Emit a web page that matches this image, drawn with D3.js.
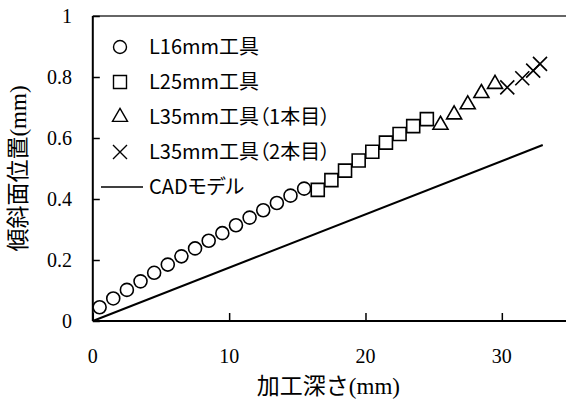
<!DOCTYPE html>
<html>
<head>
<meta charset="utf-8">
<script src="https://cdn.jsdelivr.net/npm/d3@7"></script>
<style>
  html, body { margin: 0; padding: 0; background: #fff; }
  svg { display: block; }
  .serif { font-family: "Liberation Serif", "DejaVu Serif", serif; }
  .jp { font-family: "Noto Sans CJK JP", "Noto Sans", sans-serif; }
</style>
</head>
<body>
<svg id="chart" width="566" height="408"></svg>
<script>
// ---- data ----
const l16X = [0.5, 1.5, 2.5, 3.5, 4.5, 5.5, 6.5, 7.5, 8.5, 9.5, 10.5, 11.5, 12.5, 13.5, 14.5, 15.5];
const l16Y = [0.045, 0.074, 0.102, 0.130, 0.158, 0.185, 0.212, 0.238, 0.263, 0.288, 0.314, 0.339, 0.363, 0.387, 0.411, 0.434];
const l25X = [16.5, 17.5, 18.5, 19.5, 20.5, 21.5, 22.5, 23.5, 24.5];
const l25Y = [0.430, 0.462, 0.493, 0.526, 0.555, 0.585, 0.613, 0.639, 0.662];
const l35aX = [25.5, 26.5, 27.5, 28.5, 29.5];
const l35aY = [0.643, 0.677, 0.710, 0.747, 0.777];
const l35bX = [30.4, 31.5, 32.3, 32.8];
const l35bY = [0.766, 0.796, 0.821, 0.843];
const cadX = [0, 33];
const cadY = [0, 0.577];
const xTicks = [0, 10, 20, 30];
const yTicks = [0, 0.2, 0.4, 0.6, 0.8, 1];
const yTickLabels = ["0", "0.2", "0.4", "0.6", "0.8", "1"];
const legendLabels = ["L16mm工具", "L25mm工具", "L35mm工具（1本目）", "L35mm工具（2本目）", "CADモデル"];
const xTitleJa = "加工深さ";
const yTitleJa = "傾斜面位置";
const unitText = "(mm)";

(function () {
// ---- layout ----
const svg = d3.select("#chart");
const pL = 92.8, pR = 570, pT = 16, pB = 321;
const x = d3.scaleLinear().domain([0, 35]).range([pL, pR]);
const y = d3.scaleLinear().domain([0, 1]).range([pB, pT]);

// frame: top border
svg.append("line").attr("x1", pL).attr("x2", pR).attr("y1", pT).attr("y2", pT)
  .attr("stroke", "#333").attr("stroke-width", 1.6);

// axes
const yAxis = d3.axisRight(y).tickValues(yTicks).tickSize(7).tickFormat("");
const gy = svg.append("g").attr("transform", `translate(${pL},0)`).call(yAxis);
gy.select(".domain").attr("stroke", "#000").attr("stroke-width", 2).attr("d", `M0,${pT}V${pB}`);
gy.selectAll(".tick line").attr("stroke", "#000").attr("stroke-width", 1.5);

const xAxis = d3.axisTop(x).tickValues(xTicks).tickSize(8).tickFormat("");
const gx = svg.append("g").attr("transform", `translate(0,${pB})`).call(xAxis);
gx.select(".domain").attr("stroke", "#000").attr("stroke-width", 2).attr("d", `M${pL},0H${pR}`);
gx.selectAll(".tick line").attr("stroke", "#000").attr("stroke-width", 1.5);

// tick labels
svg.append("g").selectAll("text").data(yTicks).join("text")
  .attr("class", "serif")
  .attr("x", 72).attr("y", d => y(d)).attr("dy", "0.35em")
  .attr("text-anchor", "end").style("font-size", "20px")
  .text((d, i) => yTickLabels[i]);
svg.append("g").selectAll("text").data(xTicks).join("text")
  .attr("class", "serif")
  .attr("x", d => x(d)).attr("y", 356).attr("dy", "0.35em")
  .attr("text-anchor", "middle").style("font-size", "20px")
  .text(d => d);

// axis titles
const xt = svg.append("text").attr("x", (pL + pR) / 2 - 3).attr("y", 386).attr("dy", "0.35em")
  .attr("text-anchor", "middle").style("font-size", "23px");
xt.append("tspan").attr("class", "jp").text(xTitleJa);
xt.append("tspan").attr("class", "serif").text(unitText);

const yt = svg.append("text").attr("transform", `translate(18,${(pT + pB) / 2}) rotate(-90)`)
  .attr("dy", "0.35em").attr("text-anchor", "middle").style("font-size", "23px");
yt.append("tspan").attr("class", "jp").text(yTitleJa);
yt.append("tspan").attr("class", "serif").text(unitText);

// CAD line
const cad = cadX.map((d, i) => [d, cadY[i]]);
svg.append("path").datum(cad)
  .attr("d", d3.line().x(d => x(d[0])).y(d => y(d[1])))
  .attr("fill", "none").attr("stroke", "#000").attr("stroke-width", 2);

// markers
const circ = d3.symbol().type(d3.symbolCircle).size(Math.PI * 6.5 * 6.5);
const sq = d3.symbol().type(d3.symbolSquare).size(13 * 13);
const tri = d3.symbol().type(d3.symbolTriangle).size(Math.sqrt(3) / 4 * 15 * 15);
const crossPath = "M-7,-7L7,7M-7,7L7,-7";

function drawSeries(xs, ys, path) {
  svg.append("g").selectAll("path").data(xs.map((d, i) => [d, ys[i]])).join("path")
    .attr("transform", d => `translate(${x(d[0])},${y(d[1])})`)
    .attr("d", path)
    .attr("fill", "#fff").attr("fill-opacity", path === crossPath ? 0 : 1)
    .attr("stroke", "#000").attr("stroke-width", 1.6);
}
drawSeries(l16X, l16Y, circ());
drawSeries(l25X, l25Y, sq());
drawSeries(l35aX, l35aY, tri());
drawSeries(l35bX, l35bY, crossPath);

// legend
const legY = [47, 82, 117, 152, 187];
const legSyms = [circ(), sq(), tri(), crossPath, null];
const lg = svg.append("g");
legendLabels.forEach((lab, i) => {
  if (legSyms[i]) {
    lg.append("path").attr("transform", `translate(120,${legY[i]})`).attr("d", legSyms[i])
      .attr("fill", "none").attr("stroke", "#000").attr("stroke-width", 1.4);
  } else {
    lg.append("line").attr("x1", 101).attr("x2", 143).attr("y1", legY[i]).attr("y2", legY[i])
      .attr("stroke", "#000").attr("stroke-width", 1.6);
  }
  lg.append("text").attr("class", "jp").attr("x", 149).attr("y", legY[i]).attr("dy", "0.35em")
    .style("font-size", "20px").style("font-feature-settings", "'palt' 1").text(lab);
});
})();
</script>
</body>
</html>
